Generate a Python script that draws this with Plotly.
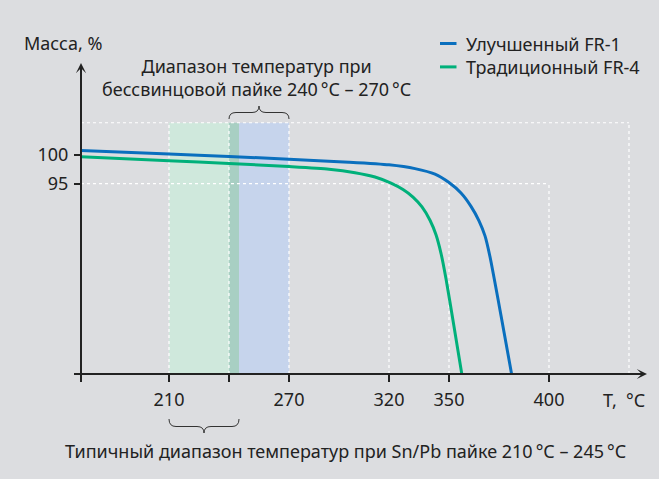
import plotly.graph_objects as go

# Thermogravimetric curves: temperature (°C) vs. remaining mass (%)
t_fr1 = [166, 210, 240, 270, 300, 320, 333, 343, 350, 356, 361, 365, 368,
         370.5, 376, 381.3]
m_fr1 = [100.7, 100.1, 99.7, 99.2, 98.7, 98.25, 97.6, 96.65, 95.2, 93.4, 91.1, 88.6, 86.0,
         82.4, 72.3, 62.2]

t_fr4 = [166, 210, 240, 270, 290, 303, 313, 321, 327, 332, 336.5, 340.5, 343.5,
         346, 348.5, 352.5, 356.4]
m_fr4 = [99.65, 98.97, 98.5, 97.95, 97.5, 96.9, 96.15, 95.1, 94.0, 92.7, 91.0, 88.7, 86.2,
         83.0, 78.6, 70.4, 62.2]

series_names = ["Улучшенный FR-1", "Традиционный FR-4"]
series_colors = ["#0a6fbe", "#00b07a"]

# Soldering temperature windows (°C)
snpb_range = [210, 245]
leadfree_range = [240, 270]

x_ticks = [166, 210, 240, 270, 320, 350, 400]
x_labels = ["", "210", "", "270", "320", "350", "400"]
y_ticks = [62.2, 95, 100]
y_labels = ["", "95", "100"]

x_min, x_max = 166, 449
y_min, y_max = 62.2, 115.8
box_top = 105.5      # upper edge of the dotted frame and of the bands
box_right = 440
grid_low = [320, 350, 400]   # verticals rising from the 95 % line
grid_high = [210, 240, 270]  # verticals rising from the top frame

BG = "#dcdde0"
INK = "#222222"
FONT = "Noto Sans"
FS = 18

W, H = 659, 479
ML, MR, MT, MB = 81, 12, 63, 105
PW, PH = W - ML - MR, H - MT - MB


def px(xp):
    return (xp - ML) / PW


def py(yp):
    return (H - MB - yp) / PH


fig = go.Figure()

for t, m, name, col in zip([t_fr1, t_fr4], [m_fr1, m_fr4], series_names, series_colors):
    fig.add_trace(go.Scatter(
        x=t, y=m, mode="lines", name=name,
        line=dict(color=col, width=3, shape="spline", smoothing=0.6),
        showlegend=False, hoverinfo="skip",
    ))

shapes = []
# Temperature bands
shapes.append(dict(type="rect", xref="x", yref="y", layer="below",
                   x0=snpb_range[0], x1=leadfree_range[0], y0=y_min, y1=box_top,
                   fillcolor="#cfe8dc", line=dict(width=0)))
shapes.append(dict(type="rect", xref="x", yref="y", layer="below",
                   x0=leadfree_range[0], x1=snpb_range[1], y0=y_min, y1=box_top,
                   fillcolor="#a8cfc3", line=dict(width=0)))
shapes.append(dict(type="rect", xref="x", yref="y", layer="below",
                   x0=snpb_range[1], x1=leadfree_range[1], y0=y_min, y1=box_top,
                   fillcolor="#c6d4ec", line=dict(width=0)))

dot = dict(color="white", width=1.2, dash="dot")
shapes.append(dict(type="line", xref="x", yref="y", layer="below",
                   x0=x_min, x1=box_right, y0=box_top, y1=box_top, line=dot))
shapes.append(dict(type="line", xref="x", yref="y", layer="below",
                   x0=box_right, x1=box_right, y0=y_min, y1=box_top, line=dot))
shapes.append(dict(type="line", xref="x", yref="y", layer="below",
                   x0=x_min, x1=400, y0=95, y1=95, line=dot))
for gx in grid_high:
    shapes.append(dict(type="line", xref="x", yref="y", layer="below",
                       x0=gx, x1=gx, y0=y_min, y1=box_top, line=dot))
for gx in grid_low:
    shapes.append(dict(type="line", xref="x", yref="y", layer="below",
                       x0=gx, x1=gx, y0=y_min, y1=95, line=dot))


def brace(x0, x1, y_end, y_mid, y_tip, r):
    xc = (x0 + x1) / 2
    return (f"M{x0},{y_end} Q{x0},{y_mid} {x0 + r},{y_mid} "
            f"L{xc - r},{y_mid} Q{xc},{y_mid} {xc},{y_tip} "
            f"Q{xc},{y_mid} {xc + r},{y_mid} L{x1 - r},{y_mid} "
            f"Q{x1},{y_mid} {x1},{y_end}")


brace_line = dict(color="#333333", width=1)
shapes.append(dict(type="path", xref="x", yref="paper",
                   path=brace(leadfree_range[0], leadfree_range[1], py(119), py(112.5), py(106), 3.5),
                   line=brace_line))
shapes.append(dict(type="path", xref="x", yref="paper",
                   path=brace(snpb_range[0], snpb_range[1], py(419), py(426.5), py(433), 3.5),
                   line=brace_line))

# Legend: colour samples next to a two-line text block
LEG_Y0, LEG_DY = 43.5, 23.4
for i, col in enumerate(series_colors):
    yy = py(LEG_Y0 + LEG_DY * i)
    shapes.append(dict(type="line", xref="paper", yref="paper",
                       x0=px(440), x1=px(456.5), y0=yy, y1=yy,
                       line=dict(color=col, width=3)))

ann = []
font = dict(family=FONT, size=FS, color=INK)
ann.append(dict(xref="paper", yref="paper", x=px(464), y=py(LEG_Y0 + LEG_DY / 2),
                text="<br>".join(series_names), align="left",
                showarrow=False, xanchor="left", yanchor="middle", font=font))

# Axis arrows
ann.append(dict(xref="x", yref="y", axref="x", ayref="y",
                x=x_max, y=y_min, ax=x_min - 3, ay=y_min,
                text="", showarrow=True, arrowhead=3, arrowsize=0.85,
                arrowwidth=2, arrowcolor=INK, standoff=0))
ann.append(dict(xref="x", yref="y", axref="x", ayref="y",
                x=x_min, y=y_max, ax=x_min, ay=y_min - 0.7,
                text="", showarrow=True, arrowhead=3, arrowsize=0.85,
                arrowwidth=2, arrowcolor=INK, standoff=0))

ann.append(dict(xref="paper", yref="paper", x=px(22), y=py(43),
                text="Масса, %", showarrow=False, xanchor="left", yanchor="middle", font=font))
ann.append(dict(xref="paper", yref="paper", x=px(647), y=py(400),
                text="T,  °C", showarrow=False, xanchor="right", yanchor="middle", font=font))
ann.append(dict(xref="paper", yref="paper", x=px(256), y=py(77),
                text="Диапазон температур при<br>бессвинцовой пайке 240\u2009°C – 270\u2009°C",
                showarrow=False, xanchor="center", yanchor="middle", font=font))
ann.append(dict(xref="paper", yref="paper", x=px(345), y=py(451),
                text="Типичный диапазон температур при Sn/Pb пайке 210\u2009°C – 245\u2009°C",
                showarrow=False, xanchor="center", yanchor="middle", font=font))

fig.update_layout(
    width=W, height=H,
    margin=dict(l=ML, r=MR, t=MT, b=MB),
    paper_bgcolor=BG, plot_bgcolor=BG,
    shapes=shapes, annotations=ann,
    font=font,
    xaxis=dict(range=[x_min, x_max], tickvals=x_ticks, ticktext=x_labels,
               ticks="outside", ticklen=7, tickwidth=2, tickcolor=INK,
               ticklabelstandoff=2,
               showgrid=False, zeroline=False, showline=False,
               tickfont=font, fixedrange=True),
    yaxis=dict(range=[y_min, y_max], tickvals=y_ticks, ticktext=y_labels,
               ticks="outside", ticklen=6, tickwidth=2, tickcolor=INK,
               ticklabelstandoff=2,
               showgrid=False, zeroline=False, showline=False,
               tickfont=font, fixedrange=True),
)

fig.write_html("out.html")
